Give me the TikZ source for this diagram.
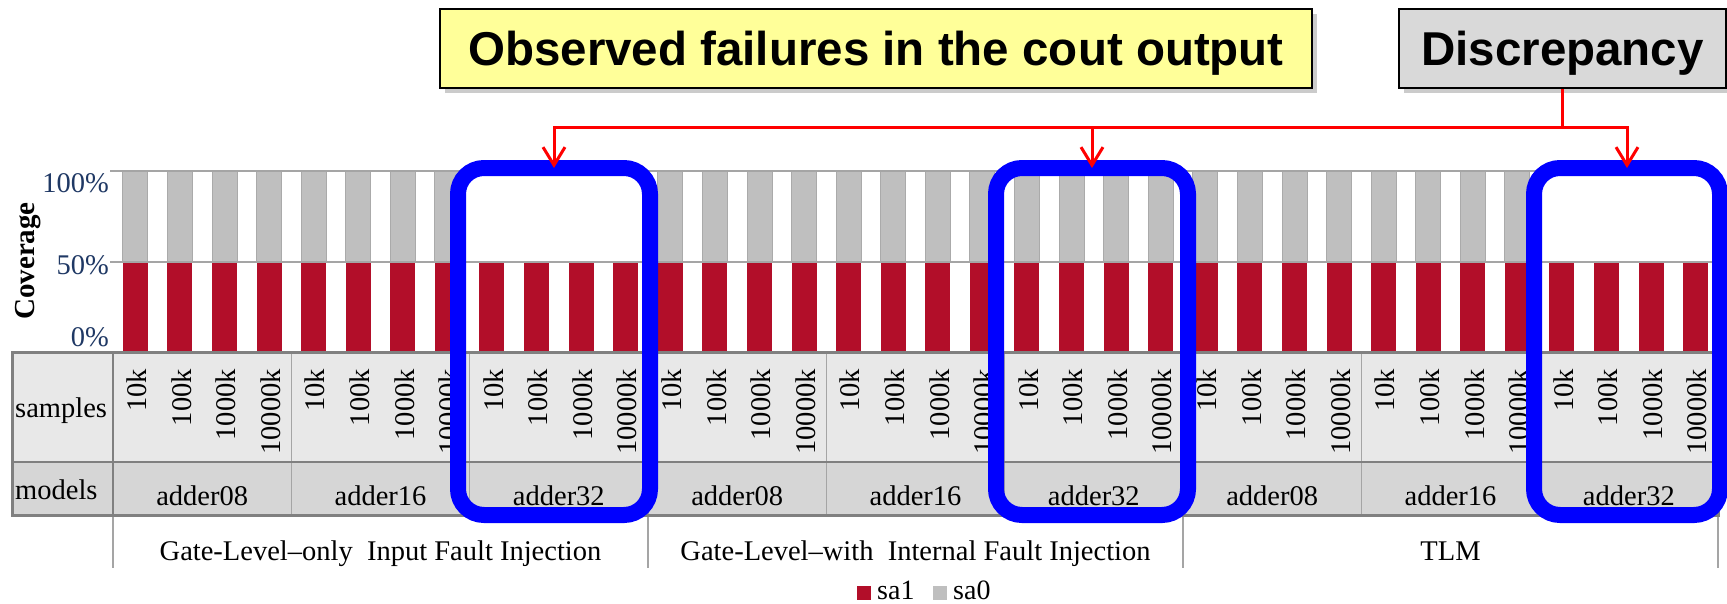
\documentclass[tikz,border=0pt]{standalone}
\usepackage{fontspec}
\setmainfont{Liberation Serif}
\newfontfamily\headfont{Liberation Sans}
\usetikzlibrary{arrows.meta,shadows}
\definecolor{barred}{RGB}{178,14,41}
\definecolor{bargray}{RGB}{191,191,191}
\definecolor{barline}{RGB}{170,170,170}
\definecolor{rowA}{RGB}{232,232,232}
\definecolor{rowB}{RGB}{214,214,214}
\definecolor{tblborder}{RGB}{128,128,128}
\definecolor{tblline}{RGB}{165,165,165}
\definecolor{ytick}{RGB}{31,56,100}
\definecolor{yel}{RGB}{255,255,153}
\definecolor{discgray}{RGB}{217,217,217}
\definecolor{boxblue}{RGB}{0,0,255}
\definecolor{arrred}{RGB}{255,0,0}
\newcommand\tblfont{\fontsize{28.5}{30}\selectfont}
\tikzset{
  callout/.style={draw=black, line width=2pt, inner sep=0pt,
    drop shadow={shadow xshift=5pt, shadow yshift=-5pt, fill=black!45, opacity=0.45},
    font=\headfont\fontsize{47.5}{50}\selectfont\bfseries, text height=34pt, text depth=0pt},
  bluebox/.style={draw=boxblue, line width=16pt, rounded corners=26pt, inner sep=0pt, outer sep=0pt},
  redline/.style={draw=arrred, line width=3pt},
  redarrow/.style={draw=arrred, line width=3pt, -{Straight Barb[length=18pt,width=22pt]}},
  samplelab/.style={rotate=90, anchor=east, inner sep=0pt, font=\tblfont},
  modlab/.style={anchor=base, inner sep=0pt, font=\tblfont},
  ylab/.style={anchor=east, inner sep=0pt, font=\tblfont, text=ytick},
  grplab/.style={anchor=base, inner sep=0pt, font=\tblfont},
  legsq/.style={minimum size=14pt, inner sep=0pt},
  leglab/.style={anchor=base west, inner sep=0pt, font=\fontsize{28}{29}\selectfont},
}
\begin{document}
\begin{tikzpicture}[x=1pt,y=-1pt]
\useasboundingbox (0,0) rectangle (1727,603);
% sa1 bars (all 50%)
\foreach \i in {1,...,36} {
  \pgfmathsetmacro\cx{113+(\i-0.5)*44.5833}
  \fill[barred] (\cx-12.5,262) rectangle (\cx+12.5,352);
}
% sa0 bars (absent for adder32 in gate-level-only and TLM)
\foreach \i in {1,...,8,13,14,...,32} {
  \pgfmathsetmacro\cx{113+(\i-0.5)*44.5833}
  \filldraw[fill=bargray, draw=barline, line width=0.8pt] (\cx-12.5,171) rectangle (\cx+12.5,262);
}
% gridlines
\draw[tblline, line width=1.5pt] (110,171) -- (1718,171);
\draw[tblline, line width=1.5pt] (110,262) -- (1718,262);
% y labels
\node[ylab] (y100) at (109,183) {100\%};
\node[ylab] (y50) at (109,265) {50\%};
\node[ylab] (y0) at (109,337) {0\%};
\node[rotate=90, inner sep=0pt, font=\bfseries\fontsize{29}{30}\selectfont] (cov) at (28,261) {Coverage};
% table
\fill[rowA] (12,352) rectangle (1718,462);
\fill[rowB] (12,462) rectangle (1718,515);
\foreach \k in {0,...,9} {
  \pgfmathsetmacro\vx{113+\k*178.333}
  \draw[tblline, line width=1.5pt] (\vx,352) -- (\vx,515);
}
\foreach \vx in {113,648,1183,1718}
  \draw[tblline, line width=1.5pt] (\vx,515) -- (\vx,568);
\draw[tblborder, line width=2.5pt] (12,462) -- (1718,462);
\draw[tblborder, line width=3pt] (12,352) rectangle (1718,515);
\draw[tblborder, line width=2pt] (113,352) -- (113,515);
\node[anchor=base west, inner sep=0pt, font=\tblfont] (samples) at (15,417) {samples};
\node[anchor=base west, inner sep=0pt, font=\tblfont] (models) at (15,499) {models};
\foreach \g in {0,...,8} {
  \foreach \lab [count=\j] in {10k,100k,1000k,10000k} {
    \pgfmathsetmacro\cx{113+(4*\g+\j-0.5)*44.5833}
    \node[samplelab] (s-\g-\j) at (\cx+1.5,369) {\lab};
  }
}
\foreach \m [count=\g from 0] in {adder08,adder16,adder32,adder08,adder16,adder32,adder08,adder16,adder32} {
  \pgfmathsetmacro\cx{113+(4*\g+2)*44.5833}
  \node[modlab] (m-\g) at (\cx,505) {\m};
}
\node[grplab] (g1) at (380.5,560) {Gate-Level–only\hspace{0.5em}Input Fault Injection};
\node[grplab] (g2) at (915.5,560) {Gate-Level–with\hspace{0.5em}Internal Fault Injection};
\node[grplab] (g3) at (1450.5,560) {TLM};
% legend
\node[legsq, fill=barred] (lg1) at (864,592.5) {};
\node[leglab] (lt1) at (877,599) {sa1};
\node[legsq, fill=bargray] (lg2) at (940,592.5) {};
\node[leglab] (lt2) at (953,599) {sa0};
% blue highlight boxes
\node[bluebox, minimum width=192pt, minimum height=347pt] (b1) at (554,341.5) {};
\node[bluebox, minimum width=192pt, minimum height=347pt] (b2) at (1092,341.5) {};
\node[bluebox, minimum width=186pt, minimum height=347pt] (b3) at (1627,341.5) {};
% callouts
\node[callout, fill=yel, minimum width=872pt, minimum height=79pt] (obs) at (876,48.5) {Observed failures in the cout output};
\node[callout, fill=discgray, minimum width=327pt, minimum height=79pt] (disc) at (1562.5,48.5) {Discrepancy};
% arrows
\coordinate (hub) at (1562.5,127);
\draw[redline] (disc.south) -- (hub);
\draw[redarrow] (hub) -| (b1.north);
\draw[redarrow] (hub) -| (b2.north);
\draw[redarrow] (hub) -| (b3.north);
\end{tikzpicture}
\end{document}
